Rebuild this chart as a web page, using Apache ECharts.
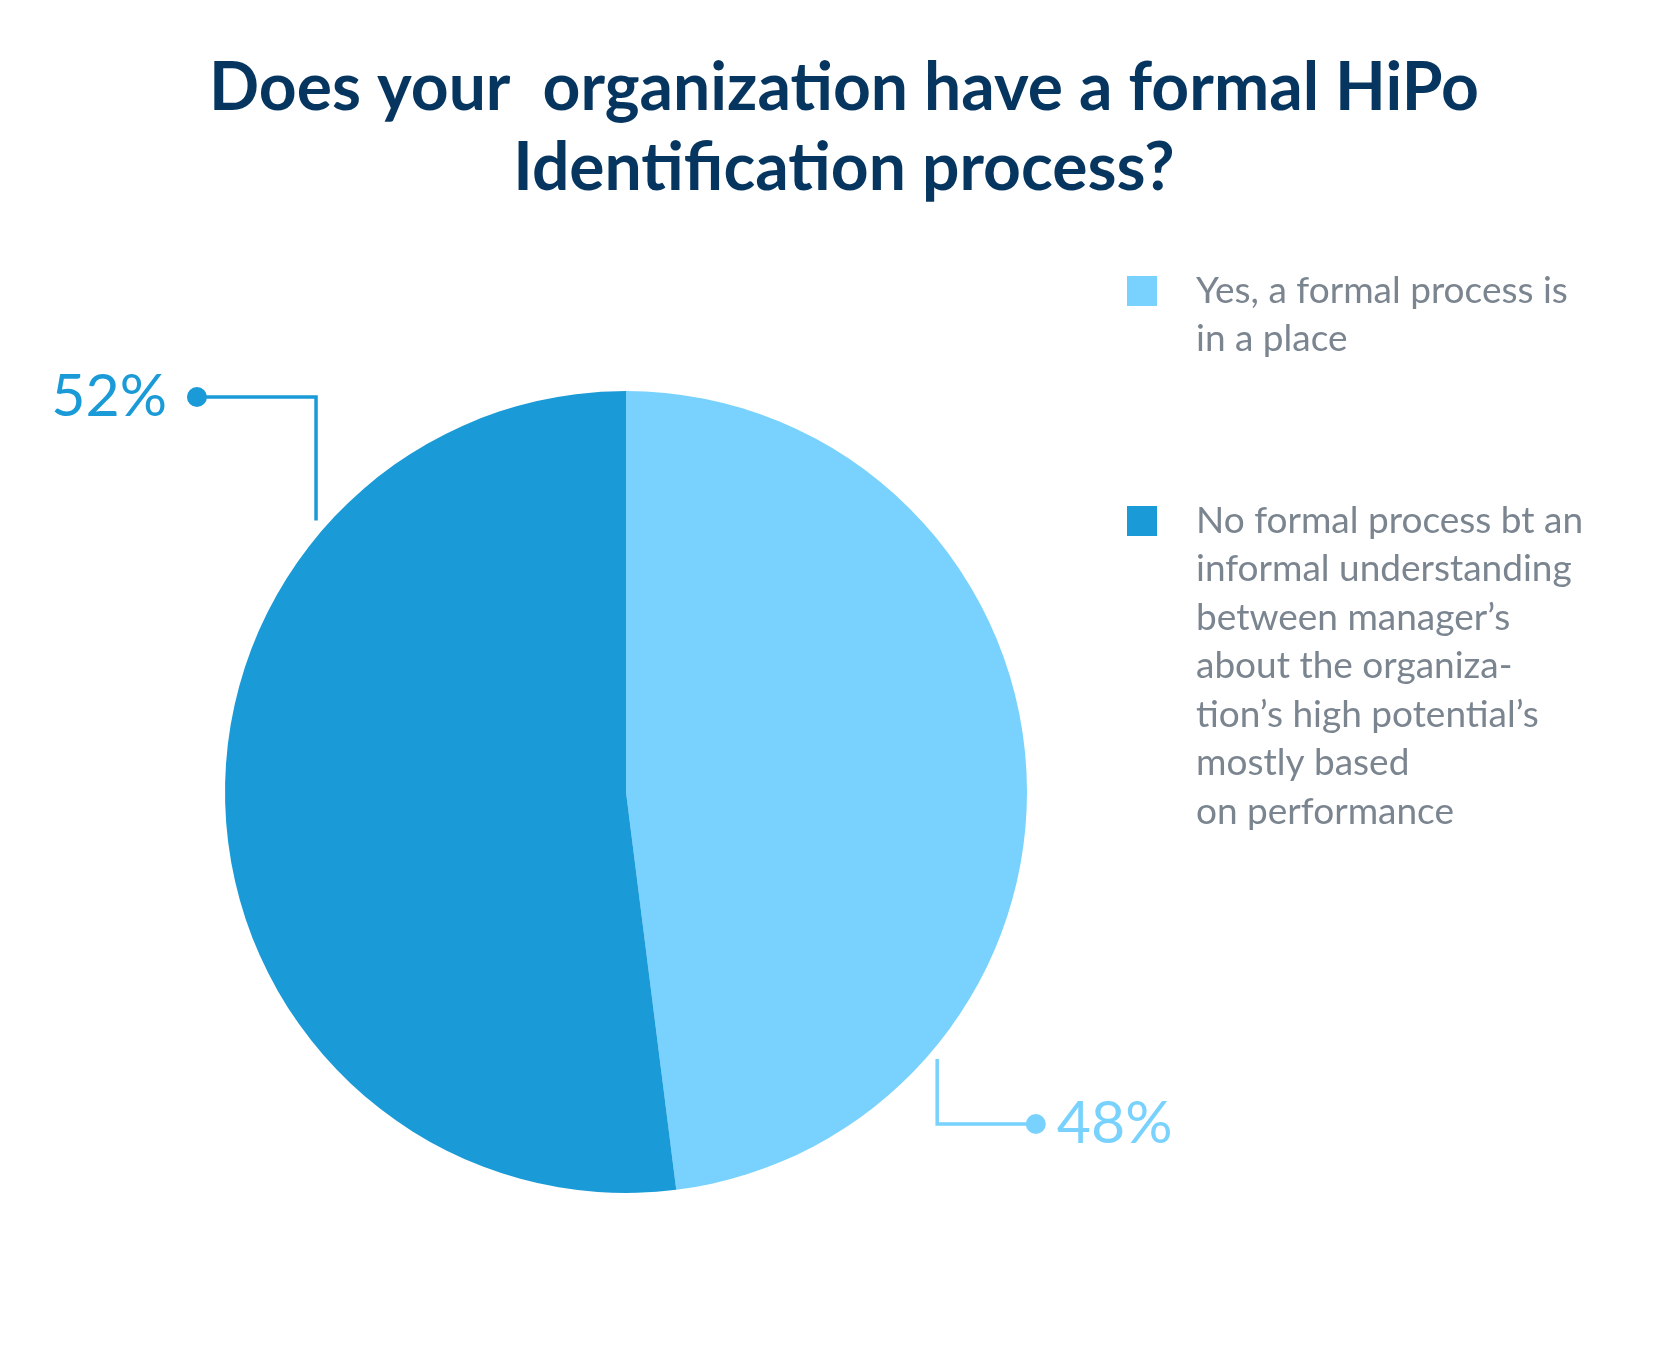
<!DOCTYPE html>
<html><head><meta charset="utf-8">
<script src="https://cdn.jsdelivr.net/npm/echarts@6/dist/echarts.min.js"></script>
<style>html,body{margin:0;padding:0;background:#fff}#c{width:1675px;height:1356px}</style>
</head><body><div id="c"></div>
<script>
const titleText = 'Does your  organization have a formal HiPo\nIdentification process?';
const categories = [
  'Yes, a formal process is in a place',
  'No formal process bt an informal understanding between manager’s about the organization’s high potential’s mostly based on performance'
];
const legendLabels = [
  'Yes, a formal process is\nin a place',
  'No formal process bt an\ninformal understanding\nbetween manager’s\nabout the organiza-\ntion’s high potential’s\nmostly based\non performance'
];
const values = [48, 52];
const colors = ['#78d2fd', '#1a9bd7'];

const CX = 626, CY = 792, R = 401;
// leader-line anchors as fractions of radius (start, elbow, dot)
const anchors = [
  { s: [0.776, 0.666], e: [0.776, 0.828], d: [1.022, 0.828], align: 'left' },
  { s: [-0.773, -0.677], e: [-0.773, -0.985], d: [-1.07, -0.985], align: 'right' }
];
const pt = a => [CX + a[0] * R, CY + a[1] * R];

// legend layout: icon centre y for each item, first text line aligned with icon
const LH = 48.5;
const legendIconCenters = [291, 521];
const legends = categories.map((name, i) => {
  const n = legendLabels[i].split('\n').length;
  return {
    orient: 'vertical', left: 1127, top: legendIconCenters[i] - (2 * n - 1) * LH / 2,
    padding: 0,
    icon: 'rect', itemWidth: 30, itemHeight: 30,
    data: [name],
    // leading blank lines keep the first text line level with the square
    formatter: () => '\n'.repeat(n - 1) + legendLabels[i],
    selectedMode: false,
    textStyle: {
      fontFamily: 'Lato', fontSize: 37, lineHeight: LH, color: '#7b8590',
      padding: [0, 0, 0, 34]
    }
  };
});

const chart = echarts.init(document.getElementById('c'), null, { renderer: 'canvas' });
chart.setOption({
  backgroundColor: '#ffffff',
  animation: false,
  title: {
    text: titleText,
    left: 839, top: 44, textAlign: 'center',
    textStyle: { fontFamily: 'Lato', fontWeight: 'bold', fontSize: 66, lineHeight: 80, color: '#06365f' }
  },
  legend: legends,
  series: [{
    type: 'pie',
    center: [CX, CY], radius: R,
    startAngle: 90, clockwise: true,
    avoidLabelOverlap: false,
    emphasis: { disabled: true },
    data: categories.map((n, i) => ({ name: n, value: values[i], itemStyle: { color: colors[i] } })),
    label: {
      show: true, position: 'outside',
      formatter: p => p.dataIndex === 0
        ? '{dot0| }{gapL| }{v0|' + p.value + '%}'
        : '{v1|' + p.value + '%}{gapR| }{dot1| }',
      rich: {
        v0: { fontFamily: 'Lato', fontSize: 59, color: colors[0] },
        v1: { fontFamily: 'Lato', fontSize: 59, color: colors[1] },
        dot0: { width: 20, height: 20, borderRadius: 10, backgroundColor: colors[0] },
        dot1: { width: 20, height: 20, borderRadius: 10, backgroundColor: colors[1] },
        gapL: { width: 11 },
        gapR: { width: 20 }
      }
    },
    labelLine: { show: true, length: 20, length2: 20, lineStyle: { width: 3.5 } },
    labelLayout: function (p) {
      const a = anchors[p.dataIndex];
      const d = pt(a.d);
      return {
        x: a.align === 'left' ? d[0] - 10 : d[0] + 10,
        y: d[1],
        align: a.align,
        verticalAlign: 'middle',
        labelLinePoints: [pt(a.s), pt(a.e), d]
      };
    }
  }]
});
</script>
</body></html>
